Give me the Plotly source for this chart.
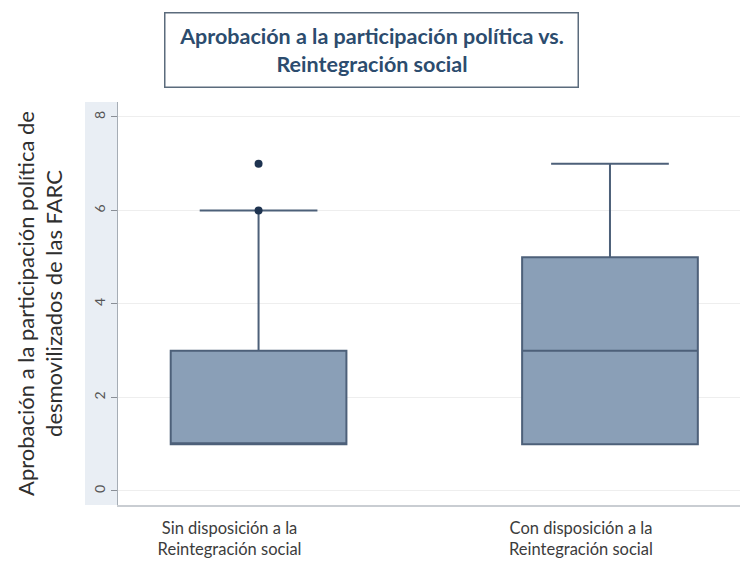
import plotly.graph_objects as go

categories = ["Sin disposición a la<br>Reintegración social",
              "Con disposición a la<br>Reintegración social"]
q1 = [1, 1]
median = [1, 3]
q3 = [3, 5]
lowerfence = [1, 1]
upperfence = [6, 7]
outlier_cat = [categories[0], categories[0]]
outlier_val = [6, 7]
y_ticks = [0, 2, 4, 6, 8]

title_text = "Aprobación a la participación política vs.<br>Reintegración social"
ytitle = "Aprobación a la participación política de<br>desmovilizados de las FARC"

fig = go.Figure()
for i, c in enumerate(categories):
    fig.add_trace(go.Box(
        x=[c], q1=[q1[i]], median=[median[i]], q3=[q3[i]],
        lowerfence=[lowerfence[i]], upperfence=[upperfence[i]],
        width=0.5, whiskerwidth=0.67,
        fillcolor="#8a9fb7", line=dict(color="#4d6079", width=2),
        boxpoints=False, showlegend=False, hoverinfo="skip"))
fig.add_trace(go.Scatter(
    x=outlier_cat, y=outlier_val, mode="markers",
    marker=dict(color="#1e3350", size=8), showlegend=False))

fig.update_layout(
    width=743, height=564,
    margin=dict(l=118, r=3, t=102, b=59),
    plot_bgcolor="white", paper_bgcolor="white",
    font=dict(family="Lato", color="#333333"),
    xaxis=dict(type="category", range=[-0.4, 1.37], automargin=False,
               categoryorder="array", categoryarray=categories,
               showgrid=False, showline=True, linecolor="#c9cdd2", linewidth=2,
               ticks="", tickfont=dict(size=16.5, color="#3c3c3c"), zeroline=False,
               ticklabelstandoff=7, ticklabelshift=-29),
    yaxis=dict(range=[-0.3, 8.32], tickvals=y_ticks, tickangle=-90, automargin=False,
               ticks="outside", ticklen=6, tickcolor="#8a8f96",
               tickfont=dict(size=14, color="#555555"),
               showgrid=True, gridcolor="#eeeeee", gridwidth=1,
               showline=True, linecolor="#a6adb5", linewidth=1, zeroline=False,
               title=dict(text=ytitle, font=dict(size=22, color="#2f2f2f"), standoff=22)),
    shapes=[dict(type="rect", xref="paper", yref="paper",
                 x0=-0.053, x1=0, y0=0, y1=1, layer="below",
                 fillcolor="#e9eef4", line=dict(width=0))],
    annotations=[dict(
        text="<b>" + title_text + "</b>", xref="paper", yref="paper",
        x=0.408, y=1.129, xanchor="center", yanchor="middle",
        showarrow=False, align="center",
        font=dict(family="Lato", size=21.5, color="#2c4c6e"),
        width=410, height=71, bordercolor="#5b6b7c", borderwidth=1.5,
        bgcolor="white")],
)

fig.write_html("out.html")
